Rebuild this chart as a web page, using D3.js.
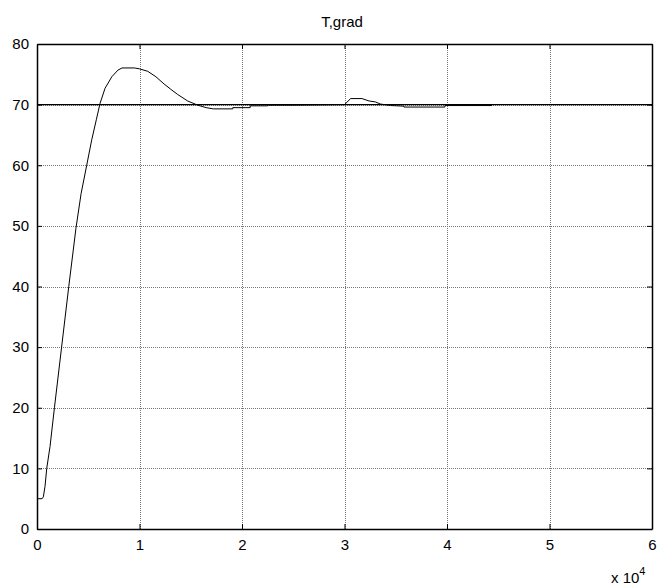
<!doctype html>
<html>
  <meta charset="utf-8">
  <head>
    <script src="https://d3js.org/d3.v7.min.js"></script>
    <style type='text/css'>
      body{margin:0;background:#fff;}
      text{font-family:"Liberation Sans",Arial,sans-serif;font-size:14px;fill:#000;}
      .grid line{stroke:#777;stroke-dasharray:1,1;shape-rendering:crispEdges;}
    </style>
  </head>
  <body>
    <svg></svg>
    <script type="text/javascript">
      // time in units of 1e4, temperature in grad
      var timeX = [0, 0.05, 0.062, 0.078, 0.095, 0.127, 0.17, 0.24, 0.31, 0.38, 0.43, 0.485, 0.534, 0.58, 0.615,
        0.664, 0.73, 0.79, 0.83, 0.95, 1.0, 1.08, 1.16, 1.24, 1.3, 1.37, 1.47, 1.57, 1.65, 1.72, 1.91, 1.91, 2.08,
        2.08, 2.25, 2.25, 2.5, 3.0, 3.06, 3.17, 3.24, 3.3, 3.35, 3.45, 3.58, 3.58, 3.98, 3.98, 4.44];
      var temp = [5, 5, 5.3, 7, 10, 13.6, 20, 30, 40, 49.6, 55.3, 60, 64.2, 67.6, 70.2,
        72.7, 74.6, 75.7, 76.05, 76.05, 75.9, 75.5, 74.6, 73.4, 72.6, 71.7, 70.6, 69.9, 69.5, 69.3, 69.3, 69.5, 69.5,
        69.8, 69.8, 69.9, 69.9, 70, 71, 71, 70.6, 70.45, 70.1, 69.85, 69.75, 69.6, 69.6, 69.85, 69.85];
      var setpoint = 70;
      var xTicks = [0, 1, 2, 3, 4, 5, 6];
      var yTicks = [0, 10, 20, 30, 40, 50, 60, 70, 80];
      var title = 'T,grad';

      var w = 659, h = 587;
      var m = {left:37, right:7, top:44, bottom:58};
      var svg = d3.select('svg').attr('width',w).attr('height',h);

      var xScale = d3.scaleLinear().domain([0,6]).range([m.left,w-m.right]);
      var yScale = d3.scaleLinear().domain([0,80]).range([h-m.bottom,m.top]);

      // grid
      var grid = svg.append('g').attr('class','grid');
      grid.selectAll('line.gx').data(xTicks.slice(1,-1)).enter().append('line')
        .attr('x1',(d)=>Math.round(xScale(d))+0.5).attr('x2',(d)=>Math.round(xScale(d))+0.5)
        .attr('y1',m.top).attr('y2',h-m.bottom);
      grid.selectAll('line.gy').data(yTicks.slice(1,-1)).enter().append('line')
        .attr('y1',(d)=>Math.round(yScale(d))+0.5).attr('y2',(d)=>Math.round(yScale(d))+0.5)
        .attr('x1',m.left).attr('x2',w-m.right);

      // axes, ticks inside
      var fmt = d3.format('d');
      var xAxis = d3.axisBottom(xScale).tickValues(xTicks).tickFormat(fmt).tickSizeInner(-5).tickSizeOuter(0).tickPadding(10);
      var yAxis = d3.axisLeft(yScale).tickValues(yTicks).tickFormat(fmt).tickSizeInner(-5).tickSizeOuter(0).tickPadding(8);
      var xTop = d3.axisTop(xScale).tickValues(xTicks).tickSizeInner(-5).tickSizeOuter(0).tickFormat('');
      var yRight = d3.axisRight(yScale).tickValues(yTicks).tickSizeInner(-5).tickSizeOuter(0).tickFormat('');

      svg.append('g').attr('transform','translate(0,'+(h-m.bottom)+')').call(xAxis);
      svg.append('g').attr('transform','translate('+m.left+',0)').call(yAxis);
      svg.append('g').attr('transform','translate(0,'+m.top+')').call(xTop);
      svg.append('g').attr('transform','translate('+(w-m.right)+',0)').call(yRight);
      svg.selectAll('.domain').attr('stroke','#000').attr('stroke-width',1.5);
      svg.selectAll('.tick line').attr('stroke','#000');
      svg.selectAll('.tick text').style('font-size','15px').attr('fill','#000');

      // setpoint line
      svg.append('line')
        .attr('x1',xScale(0)).attr('x2',xScale(6))
        .attr('y1',yScale(setpoint)).attr('y2',yScale(setpoint))
        .attr('stroke','#000').attr('stroke-width',1.2);

      // curve
      var pts = timeX.map((t,i)=>[t,temp[i]]);
      var line = d3.line().x((d)=>xScale(d[0])).y((d)=>yScale(d[1]));
      svg.append('path').datum(pts).attr('d',line)
        .attr('fill','none').attr('stroke','#000').attr('stroke-width',1);

      // title and exponent
      svg.append('text').attr('x',342).attr('y',27)
        .attr('text-anchor','middle').style('font-size','15px').text(title);
      var ex = svg.append('text').attr('x',611).attr('y',583).style('font-size','15px');
      ex.append('tspan').text('x 10');
      ex.append('tspan').attr('dy',-8).style('font-size','11px').text('4');
    </script>
  </body>
</html>
